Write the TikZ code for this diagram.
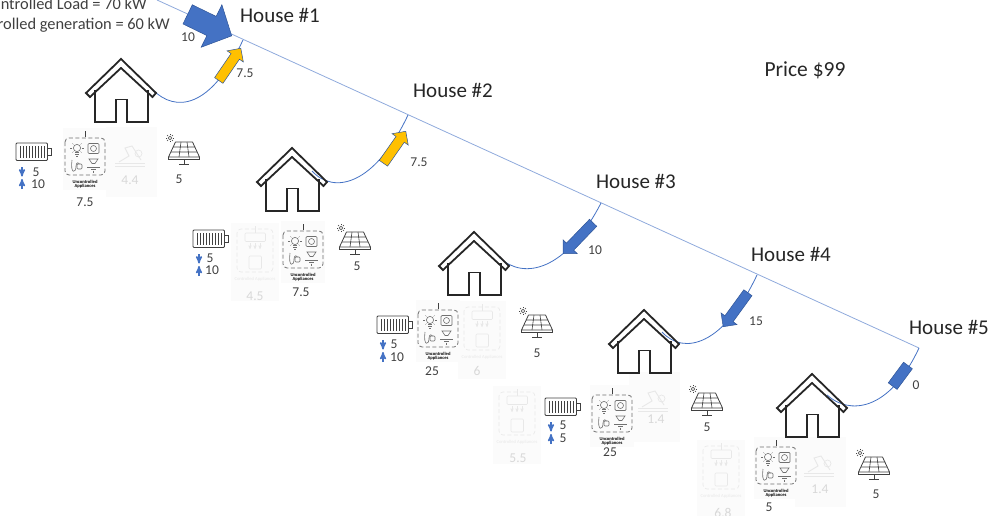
\documentclass[tikz,border=0pt]{standalone}
\usepackage{fontspec}
\setmainfont{Carlito}
\usetikzlibrary{arrows,shapes.arrows}
\definecolor{busline}{HTML}{8FAADC}
\definecolor{feedline}{HTML}{4472C4}
\definecolor{flowblue}{HTML}{4472C4}
\definecolor{flowedge}{HTML}{2F5597}
\definecolor{flowyellow}{HTML}{FFC000}
\definecolor{iconline}{HTML}{404040}
\definecolor{dashline}{HTML}{707070}
\definecolor{fadeline}{HTML}{E8E8E8}
\definecolor{fadetext}{HTML}{D8D8D8}
\definecolor{fadebg}{HTML}{FBFBFB}
\tikzstyle{hlabel} = [inner sep=0pt, font=\fontsize{21}{23}\selectfont, text=black!85]
\tikzstyle{toptext} = [inner sep=0pt, anchor=base east, font=\fontsize{16.4}{18}\selectfont, text=black!75]
\tikzstyle{val} = [inner sep=0pt, font=\fontsize{13.5}{15}\selectfont, text=black!75]
\tikzstyle{fadeval} = [val, text=fadetext]
\tikzstyle{caption} = [inner sep=0pt, align=center, font=\bfseries\fontsize{4.6}{5}\selectfont]
\tikzstyle{flow} = [single arrow, draw=flowedge, line width=.5pt, inner xsep=0pt, inner ysep=4.8pt, anchor=tip,
    single arrow tip angle=90, single arrow head extend=4.8pt, minimum height=39pt]
\tikzstyle{flowbig} = [flow, inner ysep=10.4pt, single arrow tip angle=93, single arrow head extend=13pt, minimum height=49pt]
\tikzstyle{flowzero} = [rectangle, draw=flowedge, fill=flowblue, line width=.5pt, inner sep=0pt,
    minimum width=25.7pt, minimum height=11pt]
\tikzstyle{feeder} = [feedline, line width=.8pt]
\tikzstyle{dashbox} = [dash pattern=on 4pt off 2.5pt, rounded corners=4pt]
\tikzset{
  pics/house/.style={code={
    \draw[black!85, line width=1.8pt, line join=miter]
      (0,0) -- (35,34) -- (31.5,38) -- (0,9) -- (-31,38) -- (-35,34) -- cycle;
    \draw[black!85, line width=1.8pt]
      (-26,31) -- (-26,63) -- (-5,63) -- (-5,40.5) -- (6,40.5) -- (6,63) -- (27,63) -- (27,31);
  }},
  pics/battery/.style={code={
    \draw[iconline, line width=.9pt, rounded corners=1pt] (0,0) rectangle (31.5,17.5);
    \draw[iconline, line width=.9pt] (31.5,5.5) -- (35,5.5) -- (35,12) -- (31.5,12);
    \foreach \bx in {4,7,10,13,16,19,22,25,28}
      \draw[iconline, line width=.9pt] (\bx,3) -- (\bx,14.5);
    \draw[flowblue, line width=1.5pt, ->, >=stealth'] (6,24) -- (6,33.5);
    \draw[flowblue, line width=1.5pt, ->, >=stealth'] (6,46) -- (6,36);
  }},
  pics/uncontrolled/.style={code={
    \fill[fadebg] (-22,-10) rectangle (22,52);
    \draw[iconline, line width=.6pt] (0,-7) -- (0,-1);
    \draw[dashline, line width=.8pt, dashbox] (-20,0) rectangle (20,37);
    % bulb
    \draw[dashline, line width=.6pt] (-8,10) circle (3.6);
    \draw[dashline, line width=.6pt] (-10,14.5) -- (-6,14.5) (-10,16.5) -- (-6,16.5) (-9,18.5) -- (-7,18.5);
    \foreach \ra in {0,45,135,180,225,315}
      \draw[dashline, line width=.3pt] (-8,10) ++(\ra:4.8) -- ++(\ra:1.8);
    % outlet
    \draw[dashline, line width=.7pt, rounded corners=1pt] (3,5.5) rectangle (14,15.5);
    \draw[dashline, line width=.6pt] (8.5,10.5) circle (3);
    % plug
    \draw[dashline, line width=.6pt] (-13,22) .. controls (-15,36) and (-9,36) .. (-9,28)
      .. controls (-9,24) and (-5.5,24) .. (-5.5,26);
    \draw[dashline, line width=.6pt, rounded corners=1pt] (-8,26) rectangle (-3,31);
    % fan
    \draw[dashline, line width=.6pt] (4,21) -- (13,21) -- (10,25.5) -- (7,25.5) -- cycle;
    \draw[dashline, line width=.6pt] (2,29) -- (15,29) (6,31) -- (11,31) (8.5,32.5) -- (8.5,34.5);
    \node[caption] (cap) at (0,46) {Uncontrolled\\[-.5pt]Appliances};
  }},
  pics/controlled/.style={code={
    \fill[fadebg] (-24,-6) rectangle (24,72);
    \draw[fadeline, line width=.5pt] (0,-3) -- (0,4);
    \draw[fadeline, line width=.6pt, dashbox] (-18,0) rectangle (18,43);
    \draw[fadeline, line width=.6pt, rounded corners=1pt] (-10,4) rectangle (10.5,12.5);
    \foreach \ax in {-5,0,5}
      \draw[fadeline, line width=.4pt, ->, >=stealth'] (\ax,14) -- (\ax,20);
    \draw[fadeline, line width=.6pt, rounded corners=1pt] (-6,27) rectangle (6.5,40);
    \node[caption, font=\fontsize{4.6}{5}\selectfont, text=fadeline] (cap) at (0,50) {Controlled Appliances};
  }},
  pics/pool/.style={code={
    \fill[fadebg] (-24,-28) rectangle (27,42);
    \draw[fadeline, line width=.7pt] (8.5,-1.5) circle (3.5);
    \draw[fadeline, line width=.9pt] (-11,7) -- (-1,1) -- (-5,-7) -- (2,-9) -- (11,5);
    \draw[fadeline, line width=.8pt] (-15,8.5) -- (15,8.5) (-15,11) -- (15,11);
  }},
  pics/solar/.style={code={
    \draw[iconline, line width=.8pt, line join=round]
      (-8.5,0) -- (8.5,0) -- (15.5,15) -- (-15.5,15) -- cycle;
    \draw[iconline, line width=.6pt] (-11,5) -- (11,5) (-13,10) -- (13,10)
      (-3,0) -- (-5,15) (3,0) -- (5,15);
    \draw[iconline, line width=.8pt] (-15.5,15) -- (-15.5,17) -- (15.5,17) -- (15.5,15);
    \draw[iconline, line width=.8pt] (0,17) -- (0,22) (-5,22) -- (5,22);
    \draw[iconline, line width=.5pt] (-14,-4) circle (1.8);
    \foreach \ra in {0,45,...,315}
      \draw[iconline, line width=.4pt] (-14,-4) ++(\ra:2.6) -- ++(\ra:1.6);
  }},
}
\begin{document}
\begin{tikzpicture}[x=1pt,y=-1pt]
  \useasboundingbox (0,0) rectangle (992,516);
  \clip (0,0) rectangle (992,516);

  % grid taps and roof points
  \coordinate (b0) at (157,0);
  \coordinate (t1) at (243,40);
  \coordinate (t2) at (408,115);
  \coordinate (t3) at (601,203);
  \coordinate (t4) at (757,275);
  \coordinate (t5) at (919,348);
  \coordinate (r1) at (153,90);
  \coordinate (r2) at (312,171);
  \coordinate (r3) at (500,258);
  \coordinate (r4) at (662,332);
  \coordinate (r5) at (827,395);
  \coordinate (a0) at (232,36);
  \coordinate (a1) at (241,48);
  \coordinate (a2) at (406,131);
  \coordinate (a3) at (563,254);
  \coordinate (a4) at (723,327);

  \draw[busline, line width=.8pt] (b0) -- (t5);
  \draw[feeder] (r1) .. controls +(22,22) and +(-33,70) .. (t1);
  \draw[feeder] (r2) .. controls +(22,24) and +(-33,70) .. (t2);
  \draw[feeder] (r3) .. controls +(24,22) and +(-35,68) .. (t3);
  \draw[feeder] (r4) .. controls +(22,24) and +(-33,70) .. (t4);
  \draw[feeder] (r5) .. controls +(22,20) and +(-30,64) .. (t5);

  \node[flowbig, fill=flowblue, rotate=-26] (f0) at (a0) {};
  \node[flow, fill=flowyellow, rotate=55.6] (f1) at (a1) {};
  \node[flow, fill=flowyellow, rotate=55] (f2) at (a2) {};
  \node[flow, fill=flowblue, minimum height=43pt, rotate=226] (f3) at (a3) {};
  \node[flow, fill=flowblue, minimum height=42pt, rotate=234] (f4) at (a4) {};
  \node[flowzero, rotate=53.5] (f5) at (900.3,375.8) {};

  % house 1
  \pic (p1) at (130,155) {pool};
  \pic (b1) at (16,143) {battery};
  \pic (u1) at (85,138) {uncontrolled};
  \pic (s1) at (184,142) {solar};
  \node[val] (d1) at (36,172) {5};
  \node[val] (c1) at (38,184) {10};
  \node[val] (uv1) at (85,202) {7.5};
  \node[fadeval] (pv1) at (130,180) {4.4};
  \node[val] (sv1) at (179,179) {5};

  % house 2
  \pic (k2) at (255,229) {controlled};
  \pic (b2) at (193,230) {battery};
  \pic (u2) at (303,231) {uncontrolled};
  \pic (s2) at (355,232) {solar};
  \node[val] (d2) at (210,258) {5};
  \node[val] (c2) at (212,270) {10};
  \node[fadeval] (kv2) at (255,296) {4.5};
  \node[val] (uv2) at (301,292) {7.5};
  \node[val] (sv2) at (357,266) {5};

  % house 3
  \pic (k3) at (482,307) {controlled};
  \pic (b3) at (377,316) {battery};
  \pic (u3) at (438,310) {uncontrolled};
  \pic (s3) at (537,315) {solar};
  \node[val] (d3) at (394,344) {5};
  \node[val] (c3) at (397,357) {10};
  \node[val] (uv3) at (432,371) {25};
  \node[fadeval] (kv3) at (477,371) {6};
  \node[val] (sv3) at (537,353) {5};

  % house 4
  \pic (k4) at (517,392) {controlled};
  \pic (p4) at (653,400) {pool};
  \pic (b4) at (545,398) {battery};
  \pic (u4) at (612,395) {uncontrolled};
  \pic (s4) at (707,393) {solar};
  \node[val] (d4) at (563,425) {5};
  \node[val] (c4) at (563,438) {5};
  \node[val] (uv4) at (610,452) {25};
  \node[fadeval] (kv4) at (518,458) {5.5};
  \node[fadeval] (pv4) at (656,419) {1.4};
  \node[val] (sv4) at (707,427) {5};

  % house 5
  \pic (k5) at (721,446) {controlled};
  \pic (p5) at (819,465) {pool};
  \pic (u5) at (776,447) {uncontrolled};
  \pic (s5) at (874,457) {solar};
  \node[fadeval] (kv5) at (723,513) {6.8};
  \node[val] (uv5) at (769,507) {5};
  \node[fadeval] (pv5) at (820,489) {1.4};
  \node[val] (sv5) at (876,494) {5};

  % houses
  \pic (h1) at (121,59) {house};
  \pic (h2) at (292,148) {house};
  \pic (h3) at (474,232) {house};
  \pic (h4) at (644,310) {house};
  \pic (h5) at (812,374) {house};

  % labels
  \node[toptext] (load) at (147,10) {ntrolled Load = 70 kW};
  \node[toptext] (gen) at (170,30) {rolled generation = 60 kW};
  \node[hlabel] (l1) at (280,15) {House \#1};
  \node[hlabel] (l2) at (453,90) {House \#2};
  \node[hlabel] (l3) at (636,181) {House \#3};
  \node[hlabel] (l4) at (791,254) {House \#4};
  \node[hlabel] (l5) at (949,327) {House \#5};
  \node[hlabel, font=\fontsize{21.5}{23}\selectfont] (price) at (805,70) {Price \$99};
  \node[val] (v0) at (188,37) {10};
  \node[val] (v1) at (245,73) {7.5};
  \node[val] (v2) at (419,162) {7.5};
  \node[val] (v3) at (595,250) {10};
  \node[val] (v4) at (756,321) {15};
  \node[val] (v5) at (916,385) {0};
\end{tikzpicture}
\end{document}
